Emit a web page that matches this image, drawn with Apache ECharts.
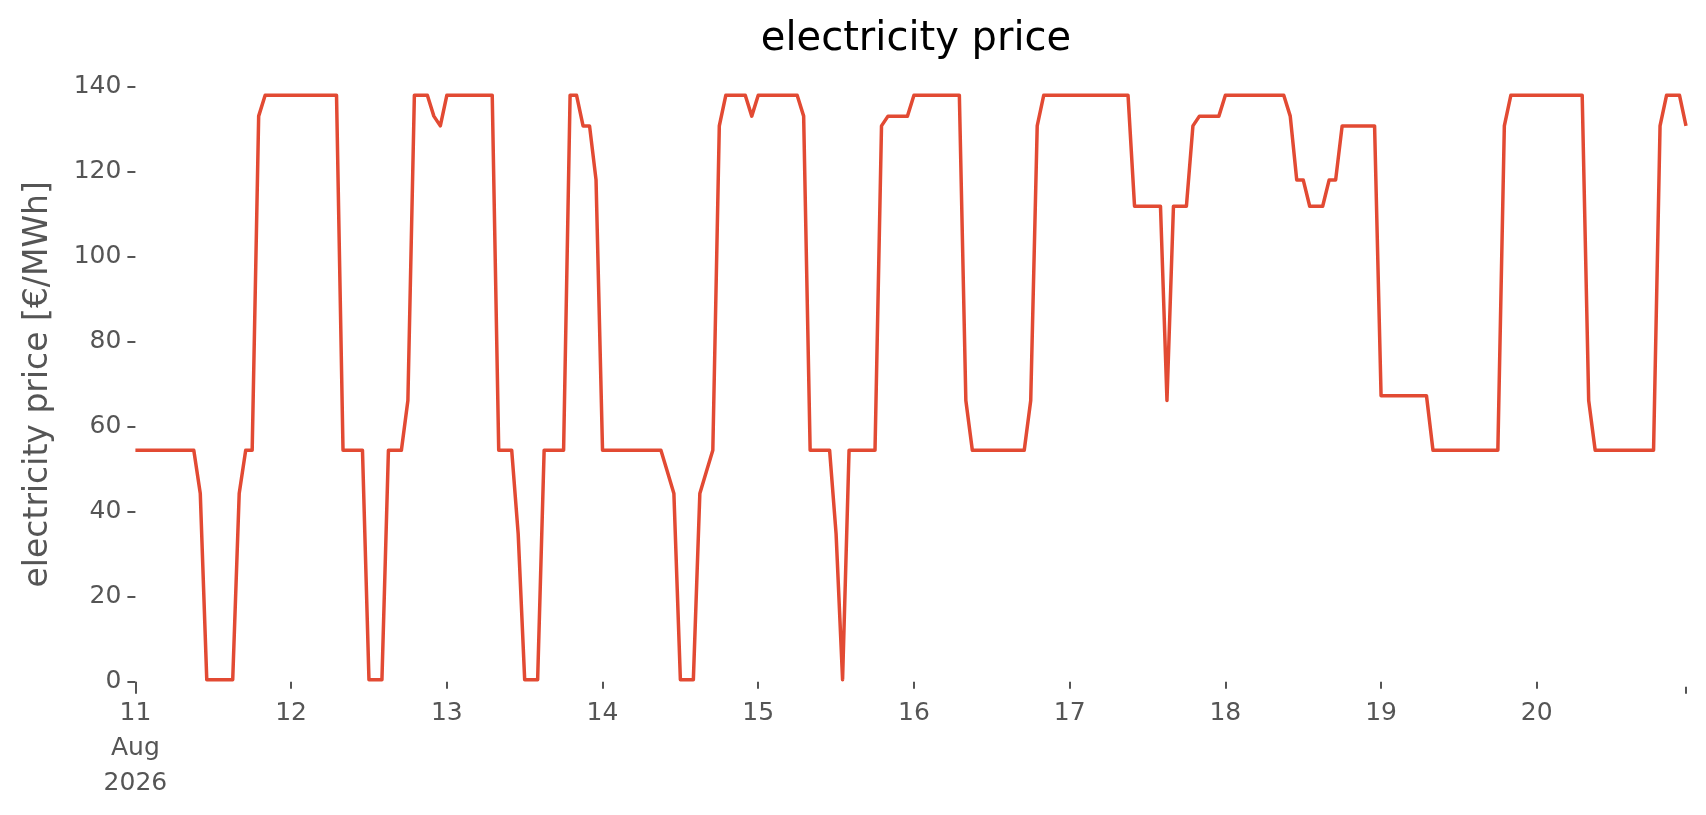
<!DOCTYPE html>
<html>
<head>
<meta charset="utf-8">
<script src="https://cdn.jsdelivr.net/npm/echarts@6/dist/echarts.min.js"></script>
<style>
html,body{margin:0;padding:0;background:#fff;}
#chart{width:1706px;height:815px;}
</style>
</head>
<body>
<div id="chart"></div>
<script>
// Hourly electricity price [€/MWh], 11 Aug 2026 00:00 .. 20 Aug 2026 23:00
var day11 = [54.5,54.5,54.5,54.5,54.5,54.5,54.5,54.5,54.5,54.5,44.3,0.5,0.5,0.5,0.5,0.5,44.3,54.5,54.5,133.1,138,138,138,138];
var day12 = [138,138,138,138,138,138,138,138,54.5,54.5,54.5,54.5,0.5,0.5,0.5,54.5,54.5,54.5,66.2,138,138,138,133.1,130.8];
var day13 = [138,138,138,138,138,138,138,138,54.5,54.5,54.5,34.8,0.5,0.5,0.5,54.5,54.5,54.5,54.5,138,138,130.8,130.8,118.1];
var day14 = [54.5,54.5,54.5,54.5,54.5,54.5,54.5,54.5,54.5,54.5,49.4,44.3,0.5,0.5,0.5,44.3,49.4,54.5,130.8,138,138,138,138,133.1];
var day15 = [138,138,138,138,138,138,138,133.1,54.5,54.5,54.5,54.5,34.8,0.5,54.5,54.5,54.5,54.5,54.5,130.8,133.1,133.1,133.1,133.1];
var day16 = [138,138,138,138,138,138,138,138,66.2,54.5,54.5,54.5,54.5,54.5,54.5,54.5,54.5,54.5,66.2,130.8,138,138,138,138];
var day17 = [138,138,138,138,138,138,138,138,138,138,111.9,111.9,111.9,111.9,111.9,66.2,111.9,111.9,111.9,130.8,133.1,133.1,133.1,133.1];
var day18 = [138,138,138,138,138,138,138,138,138,138,133.1,118.1,118.1,111.9,111.9,111.9,118.1,118.1,130.8,130.8,130.8,130.8,130.8,130.8];
var day19 = [67.3,67.3,67.3,67.3,67.3,67.3,67.3,67.3,54.5,54.5,54.5,54.5,54.5,54.5,54.5,54.5,54.5,54.5,54.5,130.8,138,138,138,138];
var day20 = [138,138,138,138,138,138,138,138,66.2,54.5,54.5,54.5,54.5,54.5,54.5,54.5,54.5,54.5,54.5,130.8,138,138,138,130.8];

var dayTickLabels = ['11\nAug\n2026','12','13','14','15','16','17','18','19','20'];
var yTickValues = [0,20,40,60,80,100,120,140];

var days = [day11,day12,day13,day14,day15,day16,day17,day18,day19,day20];
var series = [];
days.forEach(function(d, di){
  d.forEach(function(v, h){ series.push([di*24 + h, v]); });
});
var lastHour = series.length - 1;

var FONT = 'DejaVu Sans';
var chart = echarts.init(document.getElementById('chart'), null, {renderer:'canvas'});
chart.setOption({
  animation: false,
  backgroundColor: '#ffffff',
  title: {
    text: 'electricity price',
    left: 911, top: 15, textAlign: 'center',
    textStyle: {fontFamily: FONT, fontSize: 40, fontWeight: 'normal', color: '#000000'}
  },
  grid: {left: 135.4, right: 20, top: 86.8, bottom: 133.2, containLabel: false},
  xAxis: [{
    type: 'value', min: 0, max: lastHour, interval: 24,
    offset: 5,
    axisLine: {show: false},
    axisTick: {show: true, length: 7, lineStyle: {color: '#555555', width: 2}},
    splitLine: {show: false},
    axisLabel: {
      show: true, margin: 9, color: '#555555', fontFamily: FONT, fontSize: 25, lineHeight: 35,
      showMaxLabel: false,
      formatter: function(v){ var i = Math.round(v/24); return (v % 24 === 0 && dayTickLabels[i]) ? dayTickLabels[i] : ''; }
    }
  },{
    type: 'value', min: 0, max: lastHour, interval: lastHour, position: 'bottom',
    offset: 5,
    axisLine: {show: false},
    axisTick: {show: true, length: 7, lineStyle: {color: '#555555', width: 2}},
    splitLine: {show: false},
    axisLabel: {show: false}
  }],
  yAxis: {
    type: 'value', min: 0, max: 140, interval: 20,
    name: 'electricity price [€/MWh]',
    nameLocation: 'middle', nameGap: 80,
    nameTextStyle: {fontFamily: FONT, fontSize: 33, color: '#555555'},
    axisLine: {show: false},
    axisTick: {show: true, length: 8, lineStyle: {color: '#555555', width: 2}},
    splitLine: {show: false},
    axisLabel: {margin: 14, color: '#555555', fontFamily: FONT, fontSize: 25,
      formatter: function(v){ return yTickValues.indexOf(v) >= 0 ? String(v) : ''; }}
  },
  series: [{
    type: 'line', data: series, xAxisIndex: 0,
    showSymbol: false, symbol: 'none',
    lineStyle: {color: '#E24A33', width: 3.5, join: 'round'},
    itemStyle: {color: '#E24A33'}
  }]
});
</script>
</body>
</html>
